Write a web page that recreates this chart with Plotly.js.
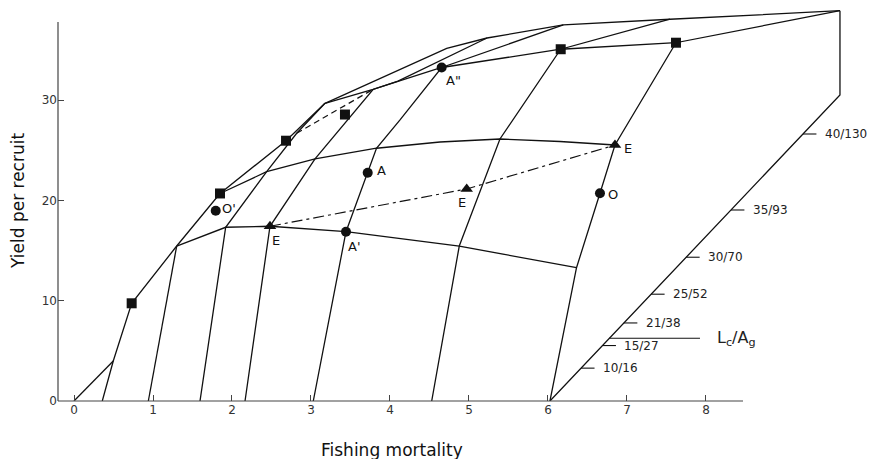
<!DOCTYPE html>
<html>
<head>
<meta charset="utf-8">
<script src="https://cdn.plot.ly/plotly-3.0.1.min.js"></script>
<style>html,body{margin:0;padding:0;background:#fff;}#chart{width:883px;height:459px;}</style>
</head>
<body>
<div id="chart"></div>
<script>
// ---- data: F = fishing mortality, Y = yield per recruit ----
const originF = [0, 0.497];
const originY = [0, 3.99];

const edgeF = [0.358, 0.497, 0.730, 1.300, 1.848, 2.684, 3.177];
const edgeY = [0, 3.99, 9.74, 15.45, 20.69, 25.95, 29.68];

const line2F = [0.941, 1.300];
const line2Y = [0, 15.45];

const line3F = [1.595, 1.920, 2.439, 2.819, 3.177];
const line3Y = [0, 17.32, 22.86, 26.69, 29.68];

const line4F = [2.165, 2.481, 3.051, 3.785, 4.101, 4.633, 5.228];
const line4Y = [0, 17.42, 24.15, 31.06, 31.90, 33.90, 36.19];

const line5F = [3.029, 3.443, 3.829, 4.127, 4.654, 6.194];
const line5Y = [0, 16.88, 25.20, 28.02, 33.25, 37.49];

const line6F = [4.528, 4.877, 5.392, 6.161, 7.544];
const line6Y = [0, 15.45, 26.12, 35.07, 38.06];

const line7F = [6.025, 6.361, 6.658, 6.848, 7.620, 9.696];
const line7Y = [0, 13.29, 20.71, 25.52, 35.72, 38.91];

const curveBF = [1.300, 1.920, 2.481, 3.443, 4.877, 6.361];
const curveBY = [15.45, 17.32, 17.42, 16.88, 15.45, 13.29];

const curveCF = [1.848, 2.439, 3.051, 3.829, 4.633, 5.392, 6.152, 6.848];
const curveCY = [20.69, 22.86, 24.15, 25.20, 25.82, 26.12, 25.87, 25.52];

const curveDF = [3.177, 3.785, 4.654, 6.161, 7.620];
const curveDY = [29.68, 31.06, 33.25, 35.07, 35.72];

const backF = [3.177, 4.718, 5.228, 6.194, 7.544, 9.696];
const backY = [29.68, 35.16, 36.19, 37.49, 38.06, 38.91];

const wallF = [9.696, 9.696, 6.025];
const wallY = [38.91, 30.51, 0];

const dashF = [2.819, 3.772];
const dashY = [26.69, 31.01];

const eLineF = [2.481, 4.971, 6.848];
const eLineY = [17.42, 21.14, 25.52];

const squareF = [0.730, 1.848, 2.684, 3.430, 6.161, 7.620];
const squareY = [9.74, 20.69, 25.95, 28.56, 35.07, 35.72];

const circleF = [1.794, 3.718, 3.443, 4.654, 6.658];
const circleY = [18.97, 22.76, 16.88, 33.25, 20.71];
const circleLabels = ["O'", "A", "A'", 'A"', "O"];

const triF = [2.481, 4.971, 6.848];
const triY = [17.42, 21.14, 25.52];
const triLabels = ["E", "E", "E"];

const xTicks = [0, 1, 2, 3, 4, 5, 6, 7, 8];
const yTicks = [0, 10, 20, 30];

const lcAgLabels = ["10/16", "15/27", "21/38", "25/52", "30/70", "35/93", "40/130"];
const agValues = [16, 27, 38, 52, 70, 93, 130];

// ---- drawing ----
const BLACK = '#111';
const lineStyle = {color: BLACK, width: 1.3};
function ln(xs, ys, extra) {
  return Object.assign({type: 'scatter', mode: 'lines', x: xs, y: ys,
    line: Object.assign({}, lineStyle), hoverinfo: 'skip', showlegend: false}, extra || {});
}

const traces = [
  ln(originF, originY), ln(edgeF, edgeY), ln(line2F, line2Y), ln(line3F, line3Y),
  ln(line4F, line4Y), ln(line5F, line5Y), ln(line6F, line6Y), ln(line7F, line7Y),
  ln(curveBF, curveBY), ln(curveCF, curveCY), ln(curveDF, curveDY), ln(backF, backY),
  ln(wallF, wallY),
  ln(dashF, dashY, {line: {color: BLACK, width: 1.2, dash: '6px,4px'}}),
  ln(eLineF, eLineY, {line: {color: BLACK, width: 1.2, dash: '11px,4px,3px,4px'}})
];

// oblique Lc/Ag axis: from wall base (F=6.025,Y=0) to wall foot (9.696,30.51), Ag 0..149
const oBase = [6.025, 0], oTop = [9.696, 30.51], agMax = 149, tickLen = 0.17;
const tkX = [], tkY = [];
const annotations = [];
agValues.forEach((ag, i) => {
  const t = ag / agMax;
  const fx = oBase[0] + t * (oTop[0] - oBase[0]);
  const fy = oBase[1] + t * (oTop[1] - oBase[1]);
  tkX.push(fx, fx + tickLen, null);
  tkY.push(fy, fy, null);
  annotations.push({x: fx + tickLen + 0.08, y: fy, xref: 'x', yref: 'y', text: lcAgLabels[i],
    showarrow: false, xanchor: 'left', yanchor: 'middle',
    font: {family: 'DejaVu Sans', size: 12, color: '#222'}});
});
traces.push(ln(tkX, tkY, {line: {color: BLACK, width: 1.1}}));
// Lc/Ag pointer line
const lcY = 6.25, lcT = lcY / oTop[1];
const lcX0 = oBase[0] + lcT * (oTop[0] - oBase[0]);
traces.push(ln([lcX0, 7.924], [lcY, lcY], {line: {color: BLACK, width: 1.1}}));
annotations.push({x: 8.12, y: lcY, xref: 'x', yref: 'y', text: 'L<sub>c</sub>/A<sub>g</sub>',
  showarrow: false, xanchor: 'left', yanchor: 'middle',
  font: {family: 'DejaVu Sans', size: 16, color: '#222'}});

traces.push({type: 'scatter', mode: 'markers', x: squareF, y: squareY, hoverinfo: 'skip', showlegend: false,
  marker: {symbol: 'square', size: 10, color: BLACK}});
traces.push({type: 'scatter', mode: 'markers', x: circleF, y: circleY, hoverinfo: 'skip', showlegend: false,
  marker: {symbol: 'circle', size: 10, color: BLACK}});
traces.push({type: 'scatter', mode: 'markers', x: triF, y: triY, hoverinfo: 'skip', showlegend: false,
  marker: {symbol: 'triangle-up', size: 11, color: BLACK}});

// point labels (pixel offsets)
const circleOff = [[13, 2], [14, 2], [8, -15], [12, -13], [13, -1]];
const triOff = [[6, -14], [-5, -14], [13, -3]];
const labFont = {family: 'DejaVu Sans', size: 13, color: '#111'};
circleLabels.forEach((t, i) => annotations.push({x: circleF[i], y: circleY[i], xref: 'x', yref: 'y', text: t,
  showarrow: false, xshift: circleOff[i][0], yshift: circleOff[i][1], font: labFont}));
triLabels.forEach((t, i) => annotations.push({x: triF[i], y: triY[i], xref: 'x', yref: 'y', text: t,
  showarrow: false, xshift: triOff[i][0], yshift: triOff[i][1], font: labFont}));

// axis titles
annotations.push({x: 4.02, y: -0.124, xref: 'x', yref: 'paper', text: 'Fishing mortality', showarrow: false,
  xanchor: 'center', yanchor: 'middle', font: {family: 'DejaVu Sans', size: 17, color: '#111'}});
annotations.push({x: -0.0505, y: 19.94, xref: 'paper', yref: 'y', text: 'Yield per recruit', showarrow: false,
  textangle: -90, xanchor: 'center', yanchor: 'middle', font: {family: 'DejaVu Sans', size: 17, color: '#111'}});

const layout = {
  width: 883, height: 459,
  margin: {l: 58, r: 33, t: 5, b: 58, pad: 0},
  paper_bgcolor: '#fff', plot_bgcolor: '#fff',
  showlegend: false, hovermode: false,
  xaxis: {range: [-0.2025, 9.823], tickvals: xTicks, ticktext: xTicks.map(String), ticks: 'inside', ticklen: 6,
    tickcolor: '#444', showgrid: false, zeroline: false, showline: false,
    tickfont: {family: 'DejaVu Sans', size: 12, color: '#333'}},
  yaxis: {range: [0, 39.48], tickvals: yTicks, ticktext: yTicks.map(String), ticks: 'inside', ticklen: 6,
    tickcolor: '#444', showgrid: false, zeroline: false, showline: false,
    tickfont: {family: 'DejaVu Sans', size: 12, color: '#333'}},
  shapes: [
    {type: 'line', xref: 'paper', yref: 'paper', x0: 0, x1: 0.8649, y0: 0, y1: 0, line: {color: '#444', width: 1.2}},
    {type: 'line', xref: 'paper', yref: 'paper', x0: 0, x1: 0, y0: 0, y1: 0.957, line: {color: '#444', width: 1.2}}
  ],
  annotations: annotations
};

Plotly.newPlot('chart', traces, layout, {staticPlot: true, displayModeBar: false});
</script>
</body>
</html>
